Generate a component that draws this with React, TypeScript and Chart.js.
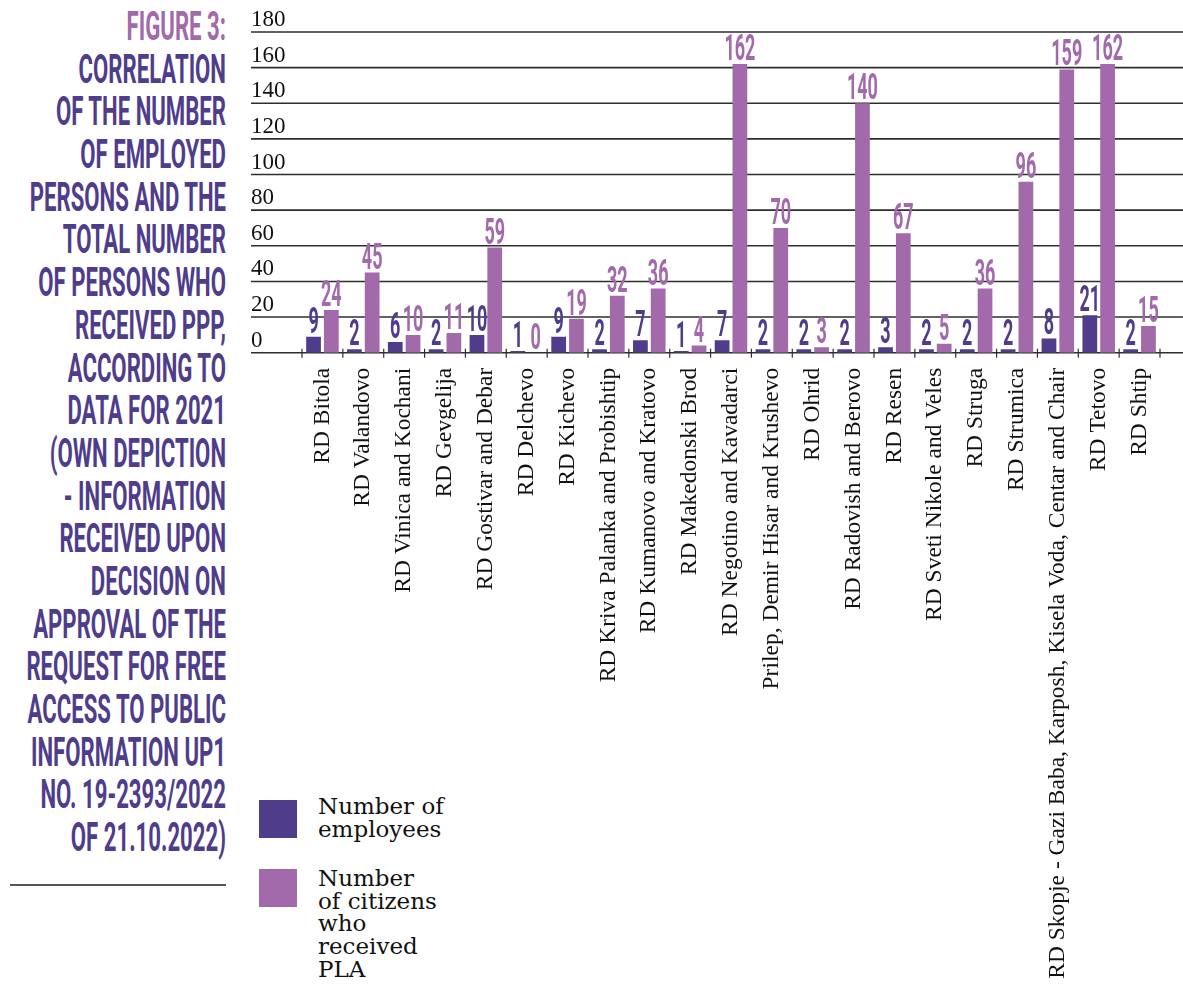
import React, { useEffect, useRef } from 'react';
import { Chart, registerables } from 'chart.js';

Chart.register(...registerables);

const categories = [
  'RD Bitola',
  'RD Valandovo',
  'RD Vinica and Kochani',
  'RD Gevgelija',
  'RD Gostivar and Debar',
  'RD Delchevo',
  'RD Kichevo',
  'RD Kriva Palanka and Probishtip',
  'RD Kumanovo and Kratovo',
  'RD Makedonski Brod',
  'RD Negotino and Kavadarci',
  'Prilep, Demir Hisar and Krushevo',
  'RD Ohrid',
  'RD Radovish and Berovo',
  'RD Resen',
  'RD Sveti Nikole and Veles',
  'RD Struga',
  'RD Strumica',
  'RD Skopje - Gazi Baba, Karposh, Kisela Voda, Centar and Chair',
  'RD Tetovo',
  'RD Shtip',
];

const employees = [9, 2, 6, 2, 10, 1, 9, 2, 7, 1, 7, 2, 2, 2, 3, 2, 2, 2, 8, 21, 2];
const citizens = [24, 45, 10, 11, 59, 0, 19, 32, 36, 4, 162, 70, 3, 140, 67, 5, 36, 96, 159, 162, 15];

const yTicks = [0, 20, 40, 60, 80, 100, 120, 140, 160, 180];

const seriesNames = ['Number of employees', 'Number of citizens who received PLA'];

const titleFirst = 'FIGURE 3:';
const titleLines = [
  'CORRELATION',
  'OF THE NUMBER',
  'OF EMPLOYED',
  'PERSONS AND THE',
  'TOTAL NUMBER',
  'OF PERSONS WHO',
  'RECEIVED PPP,',
  'ACCORDING TO',
  'DATA FOR 2021',
  '(OWN DEPICTION',
  '- INFORMATION',
  'RECEIVED UPON',
  'DECISION ON',
  'APPROVAL OF THE',
  'REQUEST FOR FREE',
  'ACCESS TO PUBLIC',
  'INFORMATION UP1',
  'NO. 19-2393/2022',
  'OF 21.10.2022)',
];

const DARK = '#4f3d8c';
const LIGHT = '#a36aab';
const GRID = '#2e2e2e';

const gridPlugin = {
  id: 'customGrid',
  beforeDatasetsDraw(chart: any) {
    const ctx = chart.ctx;
    const ys = chart.scales.y;
    const xs = chart.scales.x;
    ctx.save();
    ctx.strokeStyle = GRID;
    ctx.lineWidth = 1.6;
    for (const v of yTicks) {
      const py = ys.getPixelForValue(v);
      ctx.beginPath();
      ctx.moveTo(0, py);
      ctx.lineTo(chart.width, py);
      ctx.stroke();
    }
    const y0 = ys.getPixelForValue(0);
    ctx.lineWidth = 1.2;
    for (let i = 0; i <= categories.length; i++) {
      const px = xs.getPixelForValue(i - 0.5);
      ctx.beginPath();
      ctx.moveTo(px, y0 - 4);
      ctx.lineTo(px, y0 + 5);
      ctx.stroke();
    }
    ctx.restore();
  },
};

const labelPlugin = {
  id: 'valueLabels',
  afterDatasetsDraw(chart: any) {
    const ctx = chart.ctx;
    chart.data.datasets.forEach((ds: any, di: number) => {
      const meta = chart.getDatasetMeta(di);
      meta.data.forEach((el: any, i: number) => {
        const v = ds.data[i];
        ctx.save();
        ctx.translate(el.x, el.y - 4);
        ctx.scale(0.5, 1);
        ctx.font = 'bold 36px Roboto';
        ctx.textAlign = 'center';
        ctx.textBaseline = 'alphabetic';
        ctx.fillStyle = ds.backgroundColor;
        ctx.fillText(String(v), 0, 0);
        ctx.restore();
      });
    });
  },
};

export default function App() {
  const canvasRef = useRef<HTMLCanvasElement | null>(null);

  useEffect(() => {
    if (!canvasRef.current) return;
    const chart = new Chart(canvasRef.current, {
      type: 'bar',
      data: {
        labels: categories,
        datasets: [
          {
            label: seriesNames[0],
            data: employees,
            backgroundColor: DARK,
            categoryPercentage: 0.87,
            barPercentage: 0.83,
          },
          {
            label: seriesNames[1],
            data: citizens,
            backgroundColor: LIGHT,
            categoryPercentage: 0.87,
            barPercentage: 0.83,
          },
        ],
      },
      options: {
        responsive: false,
        animation: false,
        layout: { padding: { top: 32, right: 10, left: 0, bottom: 0 } },
        plugins: {
          legend: { display: false },
          tooltip: { enabled: false },
        },
        scales: {
          x: {
            grid: { display: true, drawOnChartArea: false, drawTicks: false, color: 'rgba(0,0,0,0)' },
            border: { display: false },
            ticks: {
              autoSkip: false,
              minRotation: 90,
              maxRotation: 90,
              padding: 15,
              color: '#111',
              font: { family: "'Liberation Serif', 'Times New Roman', serif", size: 23.5 },
            },
            afterFit: (s: any) => {
              s.height = 986 - 352.7;
            },
          },
          y: {
            min: 0,
            max: 180,
            grid: { display: false },
            border: { display: false },
            ticks: {
              stepSize: 20,
              crossAlign: 'far',
              labelOffset: -12,
              padding: 0,
              color: '#111',
              font: { family: "'Liberation Serif', 'Times New Roman', serif", size: 23 },
            },
            afterFit: (s: any) => {
              s.width = 51;
            },
          },
        },
      } as any,
      plugins: [gridPlugin, labelPlugin],
    });
    return () => chart.destroy();
  }, []);

  const titleFont = "Roboto, 'Liberation Sans', sans-serif";
  const lineStyle: React.CSSProperties = {
    whiteSpace: 'nowrap',
    textAlign: 'right',
    transform: 'scaleX(0.54)',
    transformOrigin: 'right center',
    height: '42.7px',
  };
  const legendText: React.CSSProperties = {
    position: 'absolute',
    left: 318,
    fontFamily: "'DejaVu Serif', serif",
    fontSize: 23,
    lineHeight: '22.7px',
    color: '#111',
    whiteSpace: 'nowrap',
  };

  return (
    <div
      style={{
        position: 'absolute',
        left: 0,
        top: 0,
        width: 1183,
        height: 986,
        overflow: 'hidden',
        background: '#fff',
      }}
    >
      <div
        style={{
          position: 'absolute',
          left: -300,
          top: 5,
          width: 526,
          fontFamily: titleFont,
          fontWeight: 700,
          fontSize: 41,
          lineHeight: '42.7px',
          color: DARK,
        }}
      >
        <div style={{ ...lineStyle, color: LIGHT }}>{titleFirst}</div>
        {titleLines.map((t, i) => (
          <div key={i} style={lineStyle}>
            {t}
          </div>
        ))}
      </div>
      <div style={{ position: 'absolute', left: 10, top: 884, width: 216, height: 2, background: '#555' }} />

      <div style={{ position: 'absolute', left: 259, top: 800, width: 38, height: 38, background: DARK }} />
      <div style={{ position: 'absolute', left: 259, top: 869, width: 38, height: 38, background: LIGHT }} />
      <div style={{ ...legendText, top: 795 }}>
        Number of
        <br />
        employees
      </div>
      <div style={{ ...legendText, top: 867 }}>
        Number
        <br />
        of citizens
        <br />
        who
        <br />
        received
        <br />
        PLA
      </div>

      <canvas
        ref={canvasRef}
        width={932}
        height={986}
        style={{ position: 'absolute', left: 251, top: 0, width: 932, height: 986 }}
      />
    </div>
  );
}
